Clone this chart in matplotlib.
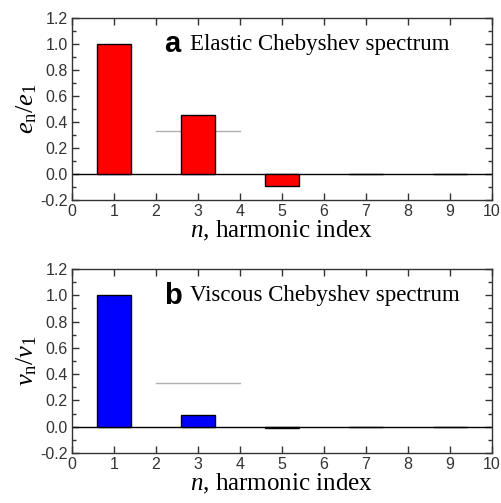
import numpy as np
import matplotlib
matplotlib.use("Agg")
import matplotlib.pyplot as plt
from matplotlib.ticker import MultipleLocator

plt.rcParams["font.family"] = "Liberation Sans"
plt.rcParams["mathtext.fontset"] = "custom"
plt.rcParams["mathtext.rm"] = "Liberation Serif"
plt.rcParams["mathtext.it"] = "Liberation Serif:italic"

harmonics = [1, 3, 5, 7, 9]
elastic = [1.0, 0.45, -0.09, 0.003, 0.002]
viscous = [1.0, 0.09, -0.01, -0.005, -0.003]
ref_level = 1.0 / 3.0
ref_span = [2, 4]

panels = [
    ("a", "Elastic Chebyshev spectrum", elastic, "#ff0000",
     r"$e_{\mathrm{n}}/e_{\mathrm{1}}$"),
    ("b", "Viscous Chebyshev spectrum", viscous, "#0000ff",
     r"$v_{\mathrm{n}}/v_{\mathrm{1}}$"),
]

fig = plt.figure(figsize=(5.01, 5.03), dpi=100)
positions = [[0.1437, 0.6024, 0.838, 0.362], [0.1437, 0.0994, 0.838, 0.3658]]

for pos, (letter, title, values, color, ylabel) in zip(positions, panels):
    ax = fig.add_axes(pos)
    ax.bar(harmonics, values, width=0.8, color=color, edgecolor="black", linewidth=1.0, zorder=3)
    ax.axhline(0.0, color="black", linewidth=1.0, zorder=2)
    ax.plot(ref_span, [ref_level, ref_level], color="#b0b0b0", linewidth=1.0, zorder=1)

    ax.set_xlim(0, 10)
    ax.set_ylim(-0.2, 1.2)
    ax.xaxis.set_major_locator(MultipleLocator(1))
    ax.yaxis.set_major_locator(MultipleLocator(0.2))
    ax.yaxis.set_minor_locator(MultipleLocator(0.1))
    ax.yaxis.set_major_formatter(matplotlib.ticker.FormatStrFormatter("%.1f"))
    ax.tick_params(which="both", direction="in", top=True, right=True, labelsize=11.5,
                   colors="#333333", labelcolor="#333333")
    ax.tick_params(which="major", length=5, width=1, pad=3)
    ax.tick_params(which="minor", length=3, width=1)
    for s in ax.spines.values():
        s.set_linewidth(1.0)
        s.set_color("#333333")

    ax.set_xlabel(r"$n$, harmonic index", family="Liberation Serif", fontsize=18, labelpad=0)
    ax.set_ylabel(ylabel, fontsize=19, labelpad=1)

    ax.text(0.22, 0.855, letter, transform=ax.transAxes, fontsize=21, fontweight="bold",
            family="Liberation Sans", va="center", ha="left")
    ax.text(0.282, 0.855, title, transform=ax.transAxes, fontsize=16.5,
            family="Liberation Serif", va="center", ha="left")

fig.savefig("out.png", dpi=100)
